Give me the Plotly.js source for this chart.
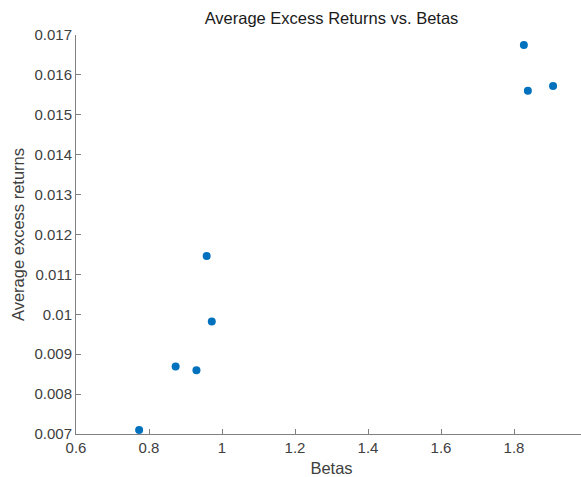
<!DOCTYPE html>
<html>
<head>
<meta charset="utf-8">
<script src="https://cdn.plot.ly/plotly-3.0.1.min.js"></script>
<style>
html, body { margin: 0; padding: 0; overflow: hidden; background: #fff; }
#chart { width: 600px; height: 477px; }
</style>
</head>
<body>
<div id="chart"></div>
<script>
const betas = [1.827, 1.838, 1.907, 0.958, 0.972, 0.873, 0.930, 0.773];
const avgExcessReturns = [0.01675, 0.0156, 0.01572, 0.01146, 0.00982, 0.00869, 0.0086, 0.0071];
const xTickVals = [0.6, 0.8, 1, 1.2, 1.4, 1.6, 1.8, 2];
const xTickText = ['0.6', '0.8', '1', '1.2', '1.4', '1.6', '1.8', '2'];
const yTickVals = [0.007, 0.008, 0.009, 0.010, 0.011, 0.012, 0.013, 0.014, 0.015, 0.016, 0.017];
const yTickText = ['0.007', '0.008', '0.009', '0.01', '0.011', '0.012', '0.013', '0.014', '0.015', '0.016', '0.017'];

const trace = {
  x: betas,
  y: avgExcessReturns,
  type: 'scatter',
  mode: 'markers',
  marker: { color: '#0072BD', size: 8, line: { width: 0 } },
  cliponaxis: false,
  hoverinfo: 'x+y'
};

const fontFam = '"Liberation Sans", Arial, Helvetica, sans-serif';

const layout = {
  width: 600,
  height: 477,
  margin: { l: 76, r: 13, t: 35, b: 43, pad: 0 },
  paper_bgcolor: '#ffffff',
  plot_bgcolor: '#ffffff',
  showlegend: false,
  font: { family: fontFam, size: 15, color: '#404040' },
  title: {
    text: 'Average Excess Returns vs. Betas',
    font: { family: fontFam, size: 16.5, color: '#1a1a1a' },
    x: 0.5, xref: 'paper', xanchor: 'center',
    y: 1 - 18 / 477, yref: 'container', yanchor: 'middle'
  },
  xaxis: {
    range: [0.6, 2],
    tickmode: 'array',
    tickvals: xTickVals,
    ticktext: xTickText,
    ticks: 'inside',
    ticklen: 5,
    tickwidth: 1,
    tickcolor: '#808080',
    showline: true,
    linecolor: '#808080',
    linewidth: 1,
    showgrid: false,
    zeroline: false,
    mirror: false,
    tickfont: { family: fontFam, size: 15, color: '#404040' },
    title: { text: 'Betas', font: { family: fontFam, size: 16.5, color: '#404040' }, standoff: 7 }
  },
  yaxis: {
    range: [0.007, 0.017],
    tickmode: 'array',
    tickvals: yTickVals,
    ticktext: yTickText,
    ticks: 'inside',
    ticklen: 5,
    tickwidth: 1,
    tickcolor: '#808080',
    showline: true,
    linecolor: '#808080',
    linewidth: 1,
    showgrid: false,
    zeroline: false,
    mirror: false,
    tickfont: { family: fontFam, size: 15, color: '#404040' },
    title: { text: 'Average excess returns', font: { family: fontFam, size: 16.5, color: '#404040' }, standoff: 5 }
  }
};

Plotly.newPlot('chart', [trace], layout, { displayModeBar: false, staticPlot: true });
</script>
</body>
</html>
